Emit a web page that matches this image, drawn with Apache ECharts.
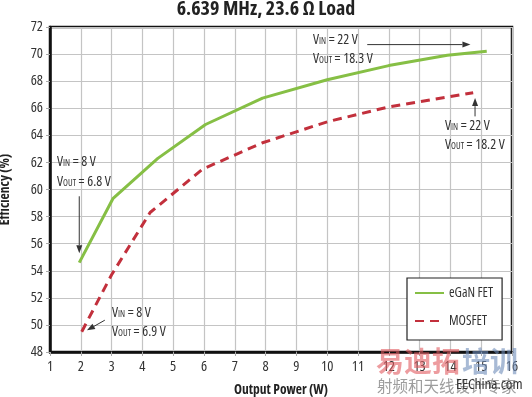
<!DOCTYPE html>
<html><head><meta charset="utf-8">
<script src="https://cdn.jsdelivr.net/npm/echarts@6/dist/echarts.min.js"></script>
<style>html,body{margin:0;padding:0;background:#fff}#c{width:532px;height:397px}</style>
</head><body><div id="c"></div>
<script>
// Data
const powerGaN = [1.95, 3.05, 4.5, 6.05, 7.9, 10.0, 12.0, 13.9, 15.18];
const effGaN   = [54.6, 59.35, 62.3, 64.8, 66.75, 68.1, 69.15, 69.92, 70.21];
const powerMOS = [2.03, 3.0, 4.25, 5.95, 7.9, 10.0, 12.0, 14.74];
const effMOS   = [49.5, 53.7, 58.3, 61.5, 63.45, 65.0, 66.1, 67.15];
const seriesNames = ['eGaN FET', 'MOSFET'];
const titleText = '6.639 MHz, 23.6 \u03A9 Load';
const xName = 'Output Power (W)';
const yName = 'Efficiency (%)';
// arrow annotations in data coordinates [from, to]
const arrows = [
  [[1.95, 59.5], [1.95, 55.3]],
  [[2.78, 50.35], [2.2, 49.6]],
  [[11.3, 70.7], [14.65, 70.7]],
  [[14.8, 65.4], [14.8, 66.75]]
];
const annot = [
  {sub: 'IN', rest: ' = 8 V'}, {sub: 'OUT', rest: ' = 6.8 V'},
  {sub: 'IN', rest: ' = 8 V'}, {sub: 'OUT', rest: ' = 6.9 V'},
  {sub: 'IN', rest: ' = 22 V'}, {sub: 'OUT', rest: ' = 18.3 V'},
  {sub: 'IN', rest: ' = 22 V'}, {sub: 'OUT', rest: ' = 18.2 V'}
];
const annotPos = [[57,164],[57,184],[112,315],[112,334],[313,42],[313,61],[445,128],[445,147]];

// condensed Open Sans (font-stretch passed through the weight field)
const FF = '"Open Sans"';
function T(size, bold, color) {
  return {fontSize: size, fontFamily: FF, fontWeight: bold ? 'condensed bold' : 'condensed', color: color || '#333'};
}
function F(size, bold) { return (bold ? 'condensed bold ' : 'condensed ') + size + 'px ' + FF; }

const chart = echarts.init(document.getElementById('c'));

const graphics = annot.map((a, i) => ({
  type: 'text', left: annotPos[i][0], top: annotPos[i][1] - 9, z: 50,
  style: {
    text: '{v|V}{s|' + a.sub + '}{t|' + a.rest + '}',
    rich: {
      v: {font: F(14), fill: '#333', lineHeight: 18, verticalAlign: 'middle'},
      s: {font: F(9), fill: '#333', lineHeight: 18, verticalAlign: 'bottom', padding: [0,0,3,0]},
      t: {font: F(14), fill: '#333', lineHeight: 18, verticalAlign: 'middle'}
    }
  }
}));
// watermark
graphics.push(
  {type:'text', left: 376, top: 347, z: 60, style:{text:'易迪拓', font:'bold 28px "Noto Sans CJK SC"', fill:'rgba(225,90,95,0.6)'}},
  {type:'text', left: 462, top: 347, z: 60, style:{text:'培训', font:'bold 28px "Noto Sans CJK SC"', fill:'rgba(110,140,185,0.6)'}},
  {type:'text', left: 377, top: 378, z: 60, style:{text:'射频和天线设计专家', font:'15.5px "Noto Sans CJK SC"', fill:'rgba(140,140,140,0.85)'}},
  {type:'text', left: 456, top: 377, z: 61, style:{text:'EEChina.com', font: F(15), fill:'#333'}}
);

chart.setOption({
  animation: false,
  backgroundColor: '#fff',
  title: {
    text: titleText, left: 'center', top: -1, padding: [0, 0, 0, 10],
    textStyle: T(20, true, '#222')
  },
  grid: {left: 50, right: 20, top: 27, bottom: 45, containLabel: false, outerBoundsMode: 'none',
         show: true, borderColor: '#111', borderWidth: 2.5, backgroundColor: 'transparent'},
  xAxis: {
    type: 'value', min: 1, max: 16, interval: 1,
    name: xName, nameLocation: 'middle', nameGap: 31,
    nameTextStyle: T(13.5, true, '#222'),
    axisLine: {show: true, lineStyle: {color: '#111', width: 2.5}},
    axisTick: {show: true, length: 4, lineStyle: {color: '#aaa'}},
    axisLabel: Object.assign(T(14.5), {margin: 7}),
    splitLine: {show: true, lineStyle: {color: '#c4c4c4', width: 1.2}}
  },
  yAxis: {
    type: 'value', min: 48, max: 72, interval: 2,
    name: yName, nameLocation: 'middle', nameGap: 38, nameRotate: 90,
    nameTextStyle: T(13.5, true, '#222'),
    axisLine: {show: true, lineStyle: {color: '#111', width: 2.5}},
    axisTick: {show: true, length: 4, lineStyle: {color: '#aaa'}},
    axisLabel: Object.assign(T(14.5), {margin: 7}),
    splitLine: {show: true, lineStyle: {color: '#c4c4c4', width: 1.2}}
  },
  legend: {
    data: seriesNames, orient: 'vertical', left: 407, top: 278,
    backgroundColor: '#fff', borderColor: '#222', borderWidth: 1.2,
    padding: [8, 9, 12, 7], itemWidth: 29, itemHeight: 14, itemGap: 14,
    itemStyle: {opacity: 0},
    textStyle: T(13.5)
  },
  series: [
    {
      name: seriesNames[0], type: 'line', symbol: 'none', z: 5,
      data: powerGaN.map((p, i) => [p, effGaN[i]]),
      lineStyle: {color: '#86bf45', width: 3},
      itemStyle: {color: '#86bf45'}
    },
    {
      name: seriesNames[1], type: 'line', symbol: 'none', z: 5,
      data: powerMOS.map((p, i) => [p, effMOS[i]]),
      lineStyle: {color: '#c2303c', width: 3, type: [9, 6]},
      itemStyle: {color: '#c2303c'}
    }
  ],
  graphic: graphics
});

// arrows: data coords converted through the chart's own axes
const arrowGraphics = [];
arrows.forEach(a => {
  const p0 = chart.convertToPixel({gridIndex: 0}, a[0]);
  const p1 = chart.convertToPixel({gridIndex: 0}, a[1]);
  const dx = p1[0] - p0[0], dy = p1[1] - p0[1];
  const len = Math.hypot(dx, dy), ux = dx / len, uy = dy / len;
  const hl = 8, hw = 3;
  const bx = p1[0] - ux * hl, by = p1[1] - uy * hl;
  arrowGraphics.push(
    {type: 'line', z: 40, shape: {x1: p0[0], y1: p0[1], x2: bx, y2: by}, style: {stroke: '#333', lineWidth: 1}},
    {type: 'polygon', z: 40, shape: {points: [[p1[0], p1[1]], [bx - uy * hw, by + ux * hw], [bx + uy * hw, by - ux * hw]]}, style: {fill: '#333'}}
  );
});
chart.setOption({graphic: graphics.concat(arrowGraphics)});
</script></body></html>
